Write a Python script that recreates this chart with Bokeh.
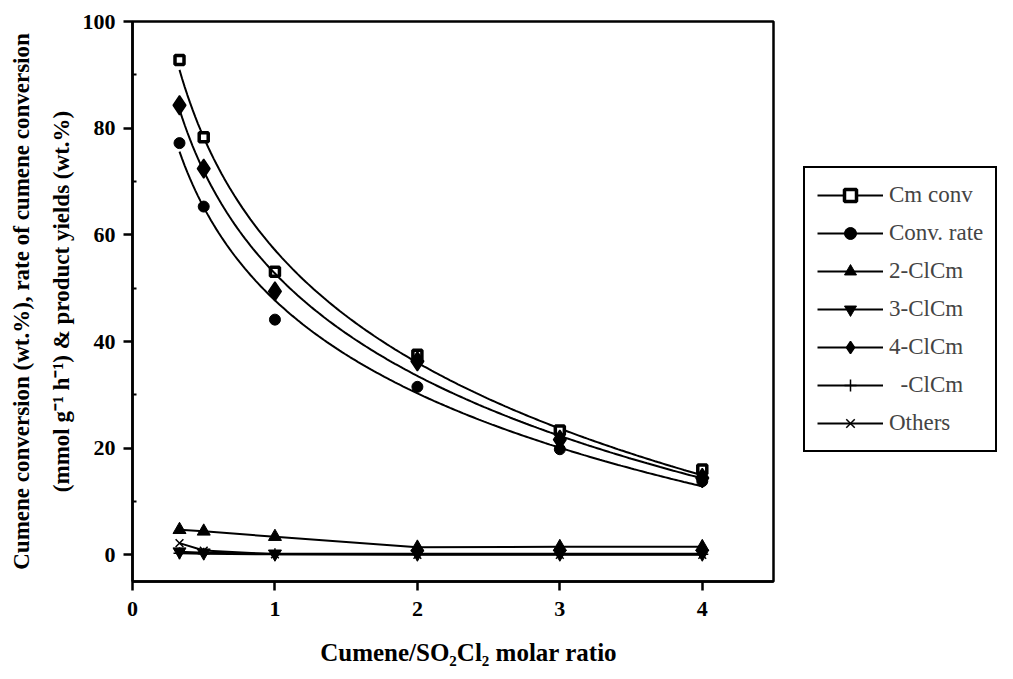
import numpy as np
from bokeh.plotting import figure
from bokeh.models import Legend, LegendItem, FixedTicker
from bokeh.embed import file_html
from bokeh.resources import INLINE

ratio = [0.33, 0.5, 1, 2, 3, 4]
cm_conv = [92.8, 78.3, 53.1, 37.5, 23.3, 16.0]
conv_rate = [77.2, 65.3, 44.1, 31.5, 19.8, 13.8]
cl2 = [4.7, 4.4, 3.4, 1.4, 1.5, 1.5]
cl3 = [0.6, 0.4, 0.2, 0.2, 0.2, 0.2]
cl4 = [84.3, 72.4, 49.4, 36.3, 21.6, 14.4]
clx = [0.3, 0.2, 0.1, 0.1, 0.1, 0.1]
others = [2.2, 0.8, 0.1, 0.0, 0.0, 0.0]

names = ["Cm conv", "Conv. rate", "2-ClCm", "3-ClCm", "4-ClCm", "\u00a0\u00a0-ClCm", "Others"]

SERIF = "Liberation Serif"

p = figure(frame_width=641, frame_height=560, min_border_left=132, min_border_top=21,
           min_border_right=230, min_border_bottom=90,
           x_range=(0, 4.5), y_range=(-5, 100), output_backend="svg",
           toolbar_location=None)
p.xgrid.visible = False
p.ygrid.visible = False
p.outline_line_color = "black"
p.outline_line_width = 2.5

for ax in (p.xaxis[0], p.yaxis[0]):
    ax.axis_line_width = 2.5
    ax.major_tick_line_width = 2.5
    ax.major_tick_out = 9
    ax.major_tick_in = 0
    ax.major_label_text_font = SERIF
    ax.major_label_text_font_style = "bold"
    ax.major_label_text_font_size = "22px"
    ax.axis_label_text_font = SERIF
    ax.axis_label_text_font_style = "bold"
    ax.major_label_text_color = "black"
    ax.axis_label_text_color = "black"

p.xaxis.ticker = FixedTicker(ticks=[0, 1, 2, 3, 4])
p.yaxis.ticker = FixedTicker(ticks=[0, 20, 40, 60, 80, 100], minor_ticks=[10, 30, 50, 70, 90])
p.xaxis.minor_tick_line_color = None
p.yaxis.minor_tick_in = 4
p.yaxis.minor_tick_out = 0
p.yaxis.minor_tick_line_width = 2
p.xaxis.major_label_standoff = 11
p.yaxis.major_label_standoff = 8
p.xaxis.axis_label = "\u00a0\u00a0\u00a0\u00a0\u00a0Cumene/SO\u2082Cl\u2082 molar ratio"
p.xaxis.axis_label_text_font_size = "25px"
p.xaxis.axis_label_standoff = 20
p.yaxis.axis_label = "Cumene conversion (wt.%), rate of cumene conversion\n(mmol g\u207b\u00b9 h\u207b\u00b9) & product yields (wt.%)"
p.yaxis.axis_label_text_font_size = "23px"
p.yaxis.axis_label_standoff = 6
p.yaxis.axis_label_text_line_height = 1.6

xa = np.array(ratio)
xs = np.linspace(xa.min(), xa.max(), 200)

items = []

def fitline(vals):
    c = np.polyfit(np.log(xa), np.array(vals), 1)
    return c[0] * np.log(xs) + c[1]

# Cm conv
l = p.line(xs, fitline(cm_conv), line_color="black", line_width=2)
m = p.scatter(ratio, cm_conv, marker="square", size=9, fill_color="white", line_color="black", line_width=3.5)
items.append(LegendItem(label=names[0], renderers=[l, m]))
# Conv rate
l = p.line(xs, fitline(conv_rate), line_color="black", line_width=2)
m = p.scatter(ratio, conv_rate, marker="circle", size=11, fill_color="black", line_color="black")
items.append(LegendItem(label=names[1], renderers=[l, m]))
# 2-ClCm
l = p.line(ratio, cl2, line_color="black", line_width=2)
m = p.scatter(ratio, cl2, marker="triangle", size=13, fill_color="black", line_color="black")
items.append(LegendItem(label=names[2], renderers=[l, m]))
# 3-ClCm
l = p.line(ratio, cl3, line_color="black", line_width=2)
m = p.scatter(ratio, cl3, marker="inverted_triangle", size=13, fill_color="black", line_color="black")
items.append(LegendItem(label=names[3], renderers=[l, m]))
# 4-ClCm
l = p.line(xs, fitline(cl4), line_color="black", line_width=2)
m = p.scatter(ratio, cl4, marker="diamond", size=19, fill_color="black", line_color="black", line_width=1.5)
items.append(LegendItem(label=names[4], renderers=[l, m]))
# -ClCm
l = p.line(ratio, clx, line_color="black", line_width=2)
m = p.scatter(ratio, clx, marker="cross", size=12, line_color="black", line_width=1.5)
items.append(LegendItem(label=names[5], renderers=[l, m]))
# Others
l = p.line(ratio, others, line_color="black", line_width=2)
m = p.scatter(ratio, others, marker="x", size=11, line_color="black", line_width=1.5)
items.append(LegendItem(label=names[6], renderers=[l, m]))

leg = Legend(items=items, location=(30, 129), glyph_width=66, glyph_height=30,
             label_height=30, spacing=8, padding=12, margin=0, label_standoff=6,
             label_text_font=SERIF, label_text_font_size="23px",
             border_line_color="black", border_line_width=2, border_line_alpha=1,
             background_fill_alpha=1)
p.add_layout(leg, "right")

open("out.html", "w").write(file_html(p, INLINE))
